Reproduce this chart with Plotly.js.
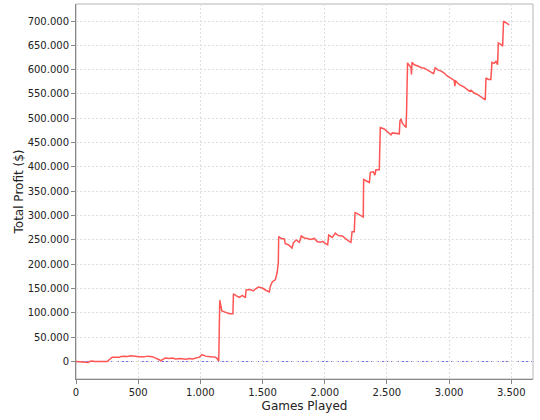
<!DOCTYPE html>
<html>
<head>
<meta charset="utf-8">
<script src="https://cdn.plot.ly/plotly-3.0.1.min.js"></script>
<style>html,body{margin:0;padding:0;background:#fff;}#chart{width:540px;height:420px;}</style>
</head>
<body>
<div id="chart"></div>
<script>
// Games played (x) and total profit in $ (y)
var gamesPlayed = [0, 60, 100, 108, 130, 149, 251, 269, 291, 350, 358, 382, 414, 438, 462, 510, 550, 575, 615, 639, 663, 685, 695, 719, 751, 775, 800, 840, 880, 912, 936, 960, 992, 1014, 1041, 1081, 1121, 1135, 1148,
  1156, 1165, 1173, 1193, 1217, 1234, 1262, 1266, 1290, 1314, 1338, 1362, 1368, 1402, 1426, 1442, 1467, 1499, 1523, 1555, 1563, 1579, 1603, 1617, 1627,
  1630, 1651, 1675, 1683, 1708, 1737, 1748, 1770, 1796, 1812, 1836, 1860, 1884, 1917, 1941, 1965, 1983, 2005, 2024, 2032, 2061, 2085, 2109, 2141, 2166, 2190, 2211,
  2220, 2238, 2244, 2262, 2286, 2310, 2313, 2334, 2359, 2367, 2391, 2404, 2412, 2439, 2447, 2479, 2503, 2533, 2543, 2600, 2605, 2613, 2624, 2640, 2654, 2658,
  2666, 2694, 2698, 2702, 2720, 2744, 2777, 2801, 2825, 2849, 2875, 2889, 2913, 2937, 2961, 2985, 3017, 3041, 3047, 3051, 3066, 3090, 3122, 3149, 3162, 3176,
  3202, 3234, 3266, 3291, 3297, 3315, 3336, 3345, 3363, 3377, 3390, 3396, 3417, 3431, 3438, 3460, 3484];
var totalProfit = [0, -2000, -2000, 0, 1000, 0, 0, 4000, 8600, 8600, 10000, 11000, 10500, 12000, 11000, 10000, 9500, 11000, 10000, 7000, 4000, 1500, 4000, 7000, 6000, 7000, 5000, 6000, 4500, 6000, 5000, 7000, 9000, 14000, 11000, 10000, 9000, 6000, 1000,
  126000, 116000, 104000, 102000, 100000, 98000, 98000, 139000, 135000, 132000, 136000, 131000, 147000, 148000, 145000, 149000, 153000, 151000, 147000, 143000, 155000, 164000, 168000, 182000, 203000,
  257000, 253000, 252000, 242000, 240000, 233000, 244000, 250000, 245000, 258000, 254000, 253000, 251000, 253000, 246000, 245000, 247000, 243000, 240000, 260000, 255000, 264000, 259000, 258000, 252000, 248000, 245000,
  267000, 267000, 306000, 304000, 301000, 297000, 374000, 372000, 368000, 389000, 390000, 383000, 394000, 394000, 481000, 478000, 473000, 466000, 470000, 468000, 494000, 499000, 490000, 485000, 481000, 510000,
  614000, 604000, 590000, 615000, 610000, 608000, 604000, 603000, 599000, 596000, 592000, 604000, 599000, 597000, 593000, 587000, 581000, 578000, 566000, 578000, 573000, 568000, 564000, 559000, 556000, 558000,
  552000, 548000, 542000, 538000, 583000, 580000, 580000, 615000, 613000, 617000, 610000, 655000, 652000, 648000, 700000, 697000, 692000];
var zeroMarker = [0];

var font = '"DejaVu Sans", "Liberation Sans", sans-serif';

var traces = [{
  x: gamesPlayed,
  y: totalProfit,
  type: 'scatter',
  mode: 'lines',
  line: {color: '#ff5555', width: 1.5},
  hoverinfo: 'skip',
  showlegend: false
}];

var layout = {
  width: 540,
  height: 420,
  margin: {l: 76, r: 7, t: 4, b: 41},
  paper_bgcolor: '#ffffff',
  plot_bgcolor: '#ffffff',
  separators: ',.',
  showlegend: false,
  font: {family: font, size: 10, color: '#222222'},
  xaxis: {
    range: [0, 3675],
    dtick: 500,
    tick0: 0,
    tickformat: ',d',
    showgrid: true,
    gridcolor: '#dedede',
    griddash: '2px,2px',
    gridwidth: 1,
    zeroline: false,
    showline: true,
    linecolor: '#888888',
    linewidth: 1,
    ticks: 'outside',
    ticklen: 4,
    tickcolor: '#888888',
    tickfont: {family: font, size: 10, color: '#222222'},
    title: {text: 'Games Played', font: {family: font, size: 12, color: '#222222'}, standoff: 4},
    automargin: false
  },
  yaxis: {
    range: [-36000, 735000],
    dtick: 50000,
    tick0: 0,
    tickformat: ',d',
    showgrid: true,
    gridcolor: '#dedede',
    griddash: '2px,2px',
    gridwidth: 1,
    zeroline: false,
    showline: true,
    linecolor: '#888888',
    linewidth: 1,
    ticks: 'outside',
    ticklen: 4,
    tickcolor: '#888888',
    tickfont: {family: font, size: 10, color: '#222222'},
    title: {text: 'Total Profit ($)', font: {family: font, size: 12, color: '#222222'}, standoff: 1},
    automargin: false
  },
  shapes: [
    {type: 'rect', xref: 'paper', yref: 'paper', x0: 0, x1: 1, y0: 0, y1: 1, line: {color: '#b4b4b4', width: 1}, layer: 'below'},
    {type: 'line', xref: 'paper', yref: 'y', x0: 0, x1: 1, y0: zeroMarker[0], y1: zeroMarker[0], line: {color: '#7070f0', width: 1, dash: '3px,2px'}, layer: 'below'}
  ]
};

Plotly.newPlot('chart', traces, layout, {displayModeBar: false, staticPlot: true});
</script>
</body>
</html>
